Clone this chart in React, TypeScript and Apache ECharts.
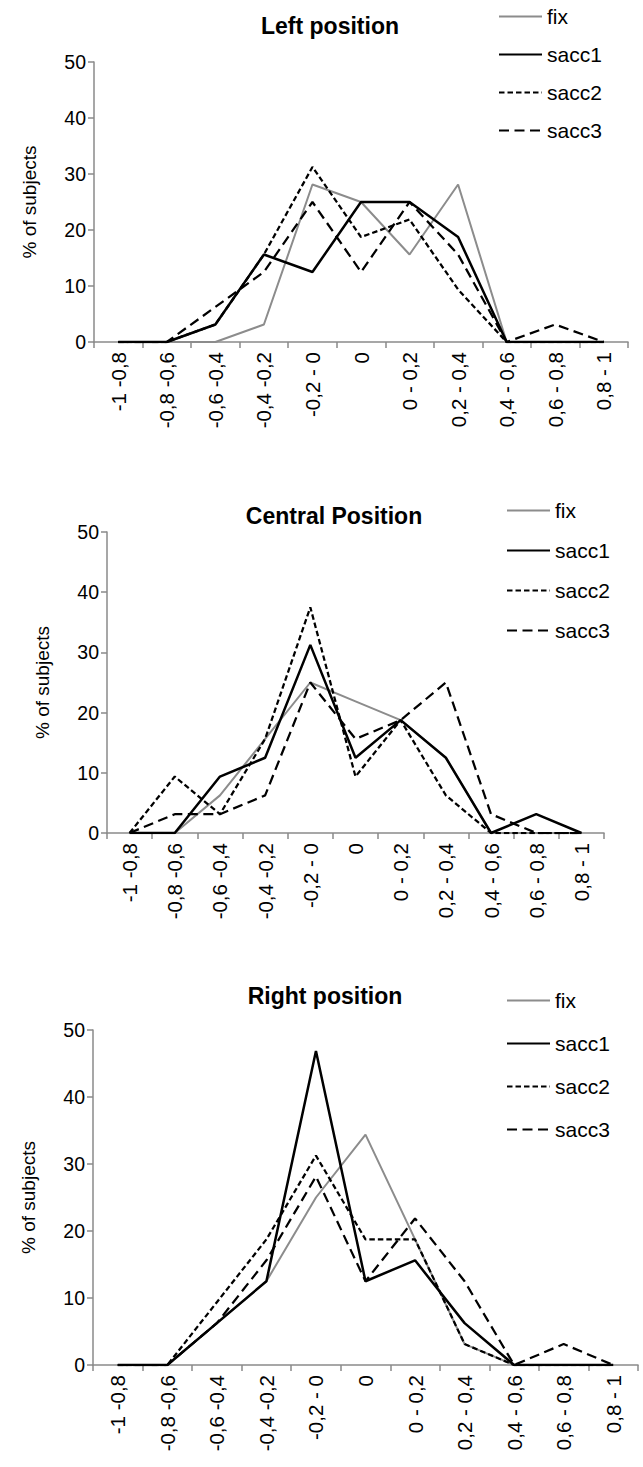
import React, { useEffect, useRef } from "react";
import * as echarts from "echarts";

const categories = [
  "-1 -0,8",
  "-0,8 -0,6",
  "-0,6 -0,4",
  "-0,4 -0,2",
  "-0,2 - 0",
  "0",
  "0 - 0,2",
  "0,2 - 0,4",
  "0,4 - 0,6",
  "0,6 - 0,8",
  "0,8 - 1",
];
const seriesNames = ["fix", "sacc1", "sacc2", "sacc3"];
const panelTitles = ["Left position", "Central Position", "Right position"];
const yAxisName = "% of subjects";

// Left position
const leftFix = [0, 0, 0, 3.125, 28.125, 25, 15.625, 28.125, 0, 0, 0];
const leftSacc1 = [0, 0, 3.125, 15.625, 12.5, 25, 25, 18.75, 0, 0, 0];
const leftSacc2 = [0, 0, 3.125, 15.625, 31.25, 18.75, 21.875, 9.375, 0, 0, 0];
const leftSacc3 = [0, 0, 6.25, 12.5, 25, 12.5, 25, 15.625, 0, 3.125, 0];

// Central position
const centralFix = [0, 0, 6.25, 15.625, 25, 21.875, 18.75, 12.5, 0, 0, 0];
const centralSacc1 = [0, 0, 9.375, 12.5, 31.25, 12.5, 18.75, 12.5, 0, 3.125, 0];
const centralSacc2 = [0, 9.375, 3.125, 15.625, 37.5, 9.375, 18.75, 6.25, 0, 0, 0];
const centralSacc3 = [0, 3.125, 3.125, 6.25, 25, 15.625, 18.75, 25, 3.125, 0, 0];

// Right position
const rightFix = [0, 0, 6.25, 12.5, 25, 34.375, 18.75, 3.125, 0, 0, 0];
const rightSacc1 = [0, 0, 6.25, 12.5, 46.875, 12.5, 15.625, 6.25, 0, 0, 0];
const rightSacc2 = [0, 0, 9.375, 18.75, 31.25, 18.75, 18.75, 3.125, 0, 0, 0];
const rightSacc3 = [0, 0, 6.25, 15.625, 28.125, 12.5, 21.875, 12.5, 0, 3.125, 0];

const panelData = [
  [leftFix, leftSacc1, leftSacc2, leftSacc3],
  [centralFix, centralSacc1, centralSacc2, centralSacc3],
  [rightFix, rightSacc1, rightSacc2, rightSacc3],
];

const FONT = "'Liberation Sans', Arial, sans-serif";
const AXIS_GRAY = "#8a8a8a";

const grids = [
  { left: 94, top: 62, width: 534, height: 280 },
  { left: 107, top: 532, width: 497, height: 301 },
  { left: 93, top: 1030, width: 545, height: 335 },
];
const titlePos = [
  { x: 325, top: 9 },
  { x: 329, top: 499 },
  { x: 320, top: 979 },
];
const legendPos = [
  { left: 493, top: 1, gap: 17 },
  { left: 501, top: 495, gap: 19 },
  { left: 501, top: 985, gap: 22 },
];

const lineStyles = [
  { color: "#8c8c8c", width: 2, type: "solid" as any },
  { color: "#000000", width: 2.5, type: "solid" as any },
  { color: "#000000", width: 2.25, type: [5.5, 3] as any },
  { color: "#000000", width: 2.25, type: [10, 5.5] as any },
];

export default function App() {
  const ref = useRef<HTMLDivElement>(null);

  useEffect(() => {
    if (!ref.current) return;
    const chart = echarts.init(ref.current, null, { renderer: "svg" });

    const option: any = {
      animation: false,
      backgroundColor: "#ffffff",
      title: panelTitles.map((t, i) => ({
        text: t,
        left: titlePos[i].x,
        textAlign: "center",
        top: titlePos[i].top,
        textStyle: { fontFamily: FONT, fontSize: 23, fontWeight: "bold", color: "#000" },
      })),
      legend: legendPos.map((p) => ({
        orient: "vertical",
        left: p.left,
        top: p.top,
        itemWidth: 43,
        itemHeight: 14,
        itemGap: p.gap,
        data: seriesNames,
        itemStyle: { opacity: 0, color: "transparent", borderWidth: 0 },
        textStyle: { fontFamily: FONT, fontSize: 21, color: "#000" },
        selectedMode: false,
      })),
      grid: grids.map((g) => ({ ...g, containLabel: false })),
      xAxis: grids.map((_, i) => ({
        type: "category",
        gridIndex: i,
        data: categories,
        boundaryGap: true,
        axisLine: { show: true, lineStyle: { color: AXIS_GRAY, width: 1.5 } },
        axisTick: { show: true, interval: 0, length: 6, lineStyle: { color: AXIS_GRAY, width: 1.5 } },
        axisLabel: {
          interval: 0,
          rotate: 90,
          margin: 10,
          fontFamily: FONT,
          fontSize: 20.5,
          color: "#000",
        },
        splitLine: { show: false },
      })),
      yAxis: grids.map((_, i) => ({
        type: "value",
        gridIndex: i,
        min: 0,
        max: 50,
        interval: 10,
        name: yAxisName,
        nameLocation: "middle",
        nameRotate: 90,
        nameGap: 55,
        nameTextStyle: { fontFamily: FONT, fontSize: 19, color: "#000" },
        axisLine: { show: true, lineStyle: { color: AXIS_GRAY, width: 1.5 } },
        axisTick: { show: true, length: 6, lineStyle: { color: AXIS_GRAY, width: 1.5 } },
        axisLabel: { margin: 8, fontFamily: FONT, fontSize: 19.5, color: "#000" },
        splitLine: { show: false },
      })),
      series: panelData.flatMap((arrs, i) =>
        arrs.map((d, k) => ({
          name: seriesNames[k],
          type: "line",
          xAxisIndex: i,
          yAxisIndex: i,
          data: d,
          symbol: "none",
          lineStyle: lineStyles[k],
          itemStyle: { color: lineStyles[k].color },
          z: 2 + k,
        }))
      ),
    };

    chart.setOption(option);
    return () => chart.dispose();
  }, []);

  return (
    <div
      ref={ref}
      style={{ position: "absolute", left: 0, top: 0, width: 643, height: 1467, background: "#fff" }}
    />
  );
}
